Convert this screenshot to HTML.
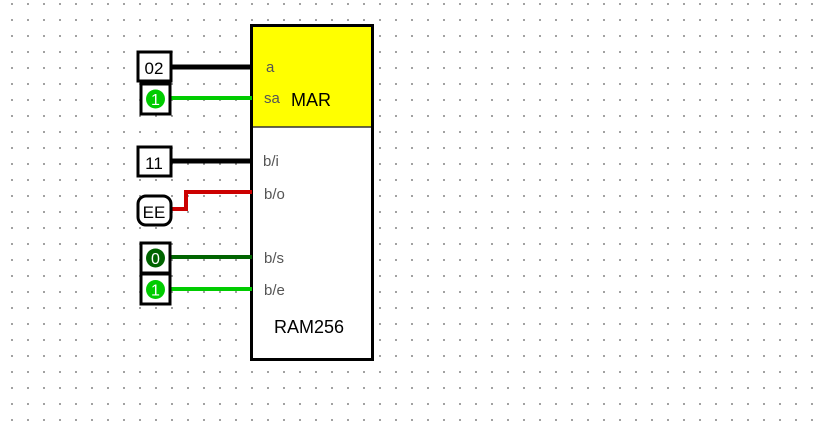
<!DOCTYPE html>
<html><head><meta charset="utf-8"><style>
body{margin:0;width:821px;height:434px;overflow:hidden;background:#fff;
background-image:radial-gradient(circle,#888 0.8px,transparent 1.1px);
background-size:16px 16px;background-position:4px -4px;}
svg{position:absolute;left:0;top:0}
</style></head><body>
<svg width="821" height="434" xmlns="http://www.w3.org/2000/svg" font-family="Liberation Sans, sans-serif">
<rect x="251.5" y="25.5" width="121" height="102" fill="#ffff00"/>
<rect x="251.5" y="127.5" width="121" height="232" fill="#fff"/>
<line x1="251" y1="127" x2="373" y2="127" stroke="#333" stroke-width="1.5"/>
<rect x="251.5" y="25.5" width="121" height="334" fill="none" stroke="#000" stroke-width="3"/>
<line x1="170" y1="67" x2="252" y2="67" stroke="#000" stroke-width="5"/>
<line x1="170" y1="98" x2="252" y2="98" stroke="#00cc00" stroke-width="4"/>
<line x1="170" y1="161" x2="252" y2="161" stroke="#000" stroke-width="5"/>
<polyline points="170,209 186,209 186,192 252,192" fill="none" stroke="#cc0000" stroke-width="4"/>
<line x1="170" y1="257" x2="252" y2="257" stroke="#006400" stroke-width="4"/>
<line x1="170" y1="289" x2="252" y2="289" stroke="#00cc00" stroke-width="4"/>
<rect x="138" y="52" width="33" height="29" fill="#fff" stroke="#000" stroke-width="3"/>
<text x="154" y="74" font-size="17" text-anchor="middle">02</text>
<rect x="141" y="84" width="29" height="30" fill="#fff" stroke="#000" stroke-width="3"/>
<circle cx="155.5" cy="99" r="9.5" fill="#00cc00"/>
<text x="155.5" y="105" font-size="16" text-anchor="middle" fill="#fff">1</text>
<rect x="138" y="147" width="33" height="29" fill="#fff" stroke="#000" stroke-width="3"/>
<text x="154" y="169" font-size="17" text-anchor="middle">11</text>
<rect x="138" y="196" width="33" height="29" rx="8" fill="#fff" stroke="#000" stroke-width="3"/>
<text x="154" y="218" font-size="17" text-anchor="middle">EE</text>
<rect x="141" y="243" width="29" height="30" fill="#fff" stroke="#000" stroke-width="3"/>
<circle cx="155.5" cy="258" r="9.5" fill="#006400"/>
<text x="155.5" y="264" font-size="16" text-anchor="middle" fill="#fff">0</text>
<rect x="141" y="274" width="29" height="30" fill="#fff" stroke="#000" stroke-width="3"/>
<circle cx="155.5" cy="289.5" r="9.5" fill="#00cc00"/>
<text x="155.5" y="295.5" font-size="16" text-anchor="middle" fill="#fff">1</text>
<g font-size="15" fill="#555">
<text x="266" y="72">a</text>
<text x="264" y="103">sa</text>
<text x="263" y="166">b/i</text>
<text x="264" y="199">b/o</text>
<text x="264" y="263">b/s</text>
<text x="264" y="295">b/e</text>
</g>
<text x="291" y="106" font-size="18">MAR</text>
<text x="274" y="333" font-size="18">RAM256</text>
</svg>
</body></html>
